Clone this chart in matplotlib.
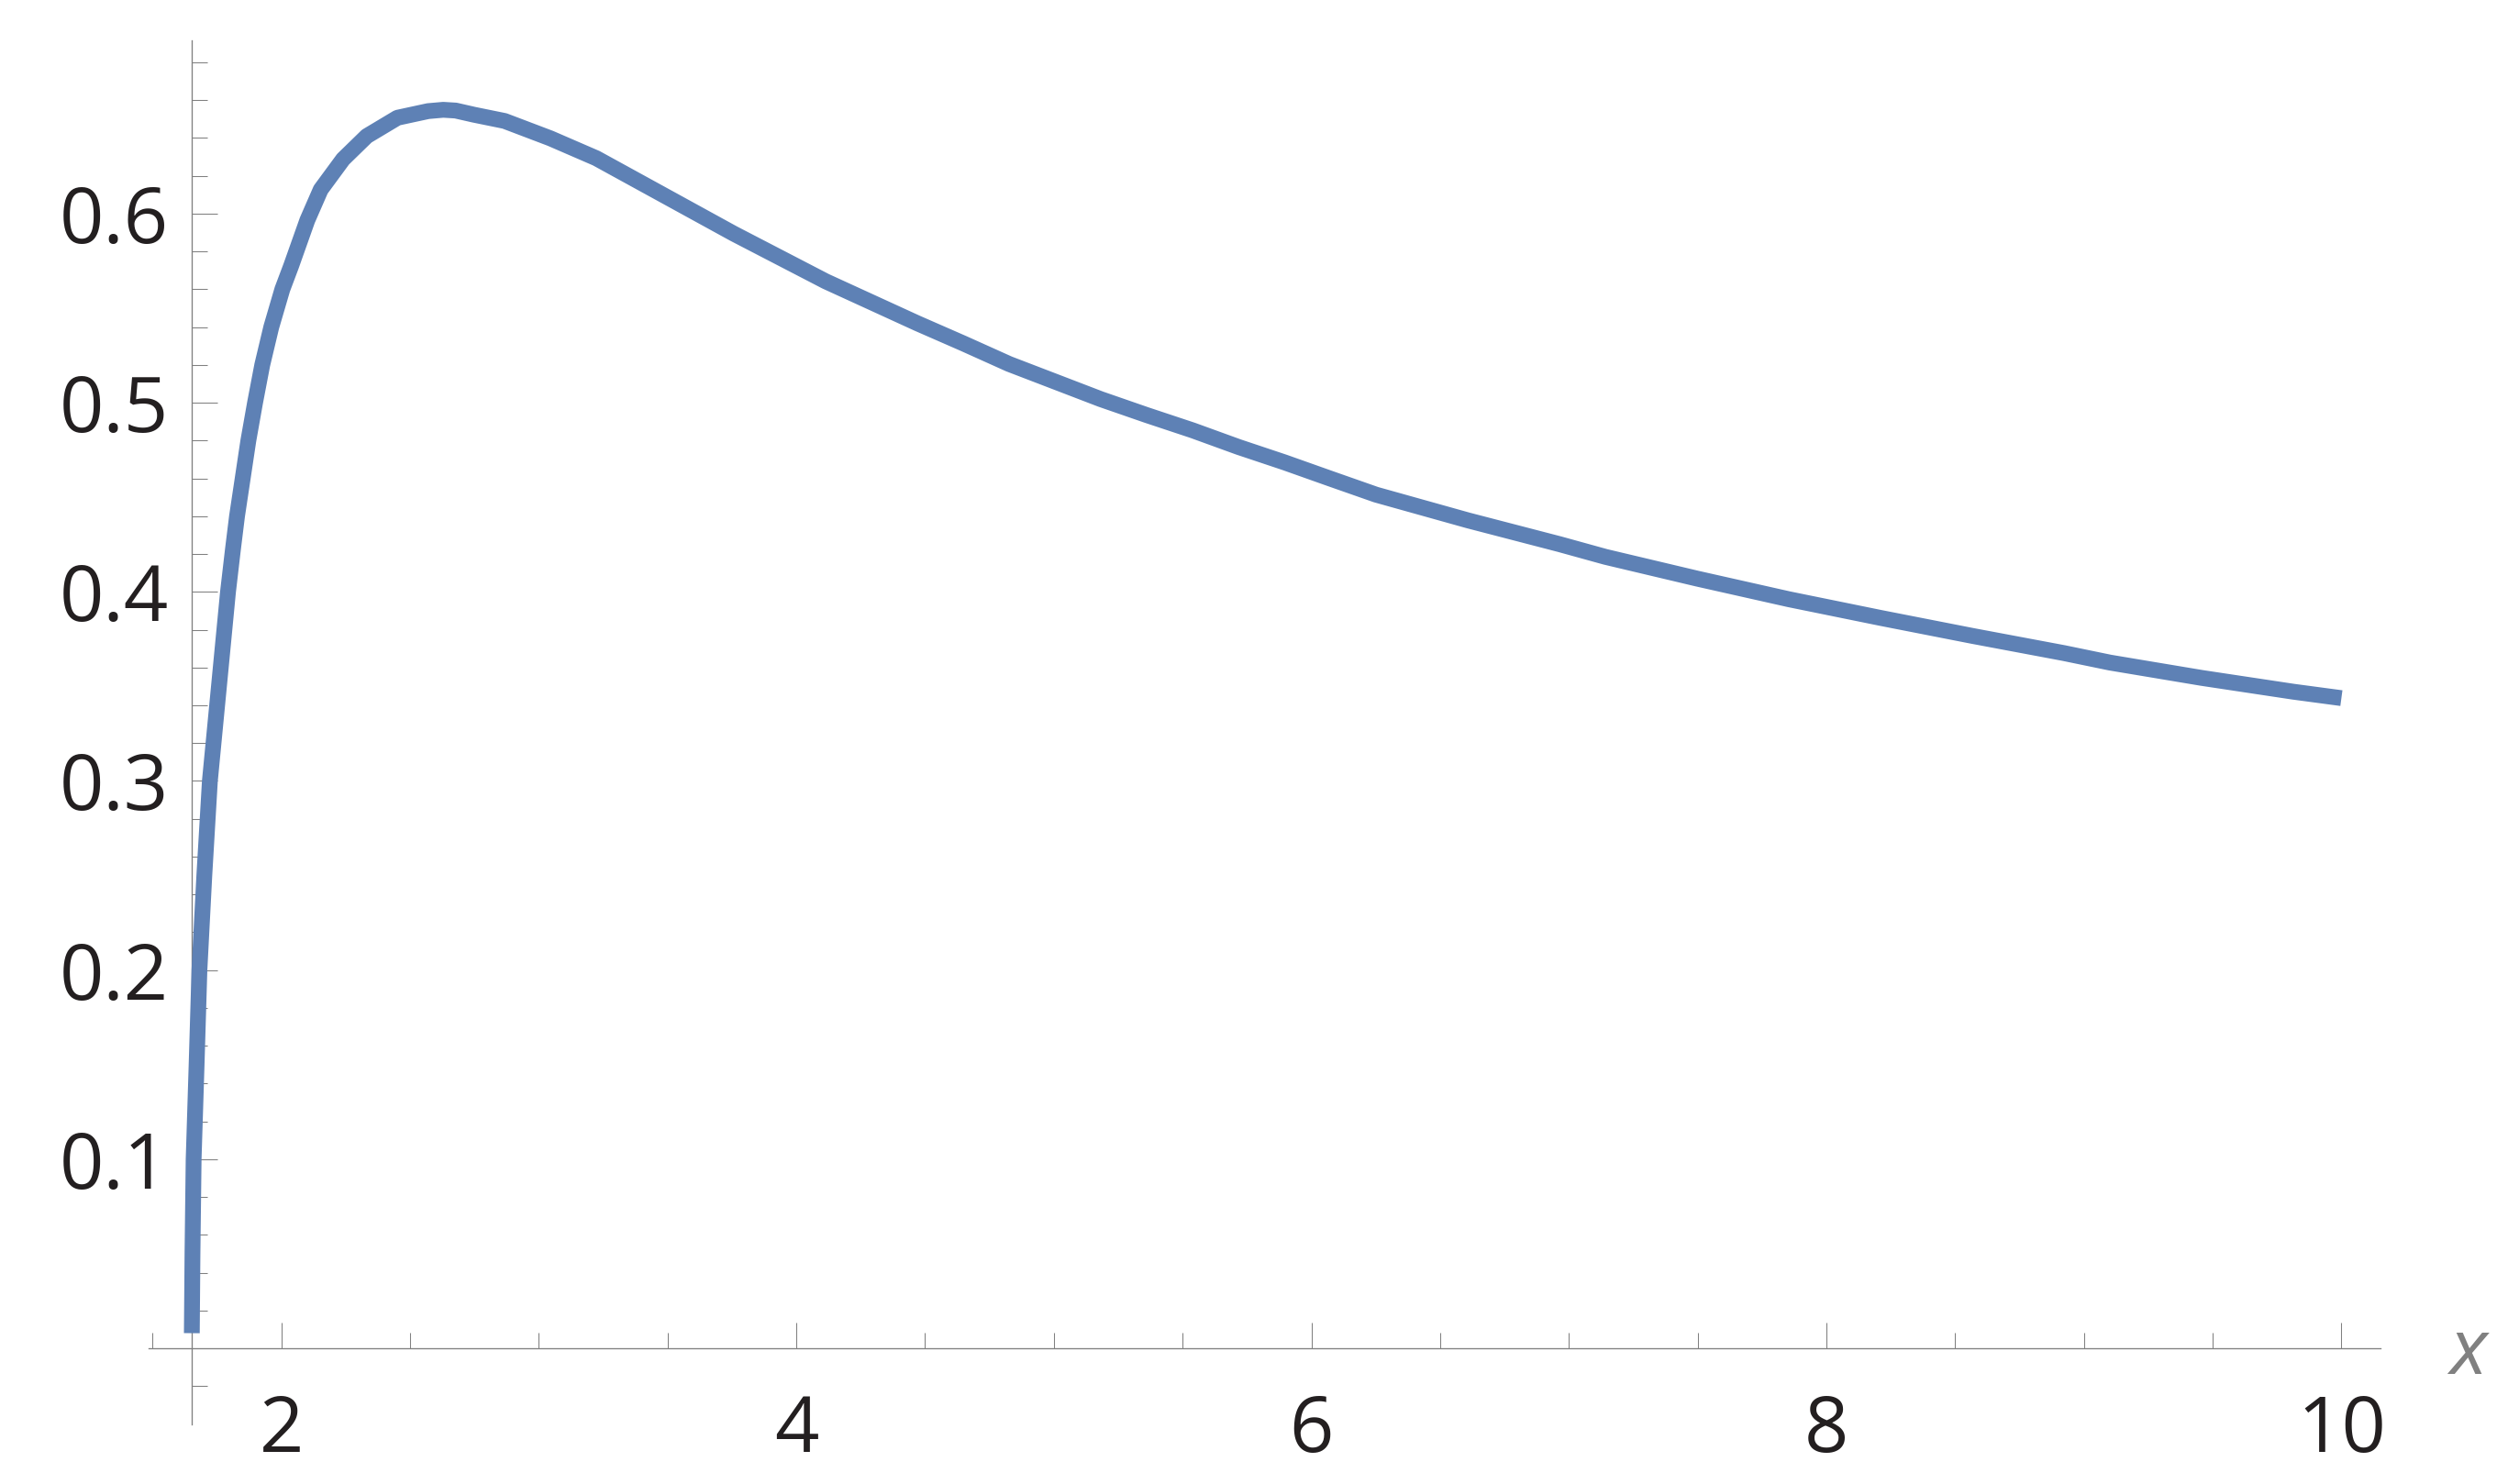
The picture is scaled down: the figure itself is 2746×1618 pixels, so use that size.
import matplotlib
matplotlib.use("Agg")
import matplotlib.pyplot as plt
import numpy as np

# curve (x, value)
x_vals = [1.6525, 1.655, 1.6595, 1.671, 1.682, 1.701, 1.7226, 1.793, 1.812, 1.828,
          1.850, 1.872, 1.898, 1.926, 1.961, 2.004, 2.038, 2.101, 2.153, 2.240,
          2.332, 2.451, 2.570, 2.629, 2.677, 2.748, 2.867, 3.045, 3.223, 3.401,
          3.757, 4.114, 4.470, 4.648, 4.826, 5.182, 5.360, 5.539, 5.717, 5.895,
          6.073, 6.251, 6.608, 6.964, 7.142, 7.498, 7.854, 8.211, 8.567, 8.923,
          9.101, 9.457, 9.813, 10.0]
y_vals = [0.008, 0.05, 0.10, 0.15, 0.20, 0.25, 0.30, 0.40, 0.4223, 0.44,
          0.46, 0.48, 0.50, 0.52, 0.54, 0.56, 0.5723, 0.5965, 0.6127, 0.6288,
          0.641, 0.6507, 0.6542, 0.6549, 0.6545, 0.6523, 0.649, 0.6398, 0.6293, 0.616,
          0.5894, 0.5642, 0.5420, 0.5314, 0.5205, 0.5019, 0.4935, 0.4854, 0.4766, 0.4685,
          0.4599, 0.4514, 0.4378, 0.4252, 0.4185, 0.4070, 0.3961, 0.3862, 0.3767, 0.3676,
          0.3626, 0.3545, 0.3472, 0.3438]

x_major = [2, 4, 6, 8, 10]
x_minor = [1.5, 2.5, 3, 3.5, 4.5, 5, 5.5, 6.5, 7, 7.5, 8.5, 9, 9.5]
y_major = [0.1, 0.2, 0.3, 0.4, 0.5, 0.6]
y_labels = ["0.1", "0.2", "0.3", "0.4", "0.5", "0.6"]
y_minor = [-0.02, 0.02, 0.04, 0.06, 0.08, 0.12, 0.14, 0.16, 0.18, 0.22, 0.24, 0.26,
           0.28, 0.32, 0.34, 0.36, 0.38, 0.42, 0.44, 0.46, 0.48, 0.52, 0.54, 0.56,
           0.58, 0.62, 0.64, 0.66, 0.68]

x_origin = 1.651
axis_gray = "#808080"
font = ["Open Sans", "DejaVu Sans"]

fig = plt.figure(figsize=(27.46, 16.18), dpi=100)
ax = fig.add_axes([0.05903, 0.04048, 0.8860, 0.9323])
ax.set_xlim(1.485, 10.152)
ax.set_ylim(-0.040, 0.6916)

ax.plot(x_vals, y_vals, color="#5E81B5", lw=12.4, solid_capstyle="butt",
        solid_joinstyle="round", zorder=3)

for s in ["top", "right"]:
    ax.spines[s].set_visible(False)
ax.spines["left"].set_position(("data", x_origin))
ax.spines["bottom"].set_position(("data", 0))
for s in ["left", "bottom"]:
    ax.spines[s].set_color(axis_gray)
    ax.spines[s].set_linewidth(0.95)

ax.set_xticks(x_major)
ax.set_xticklabels([str(v) for v in x_major])
ax.set_xticks(x_minor, minor=True)
ax.set_yticks(y_major)
ax.set_yticklabels(y_labels)
ax.set_yticks(y_minor, minor=True)

ax.tick_params(which="both", direction="in", color=axis_gray, width=0.75)
ax.tick_params(which="major", length=20.2)
ax.tick_params(which="minor", length=12.2)
ax.tick_params(axis="x", which="major", pad=35, labelsize=61, labelcolor="#231f20")
ax.tick_params(axis="y", which="major", pad=18, labelsize=61, labelcolor="#231f20")
for lab in ax.get_xticklabels() + ax.get_yticklabels():
    lab.set_family(font)

ax.text(10.49, -0.0136, "x", ha="center", va="baseline", fontsize=61,
        style="italic", color=axis_gray, family=font)

fig.savefig("out.png", dpi=100)
